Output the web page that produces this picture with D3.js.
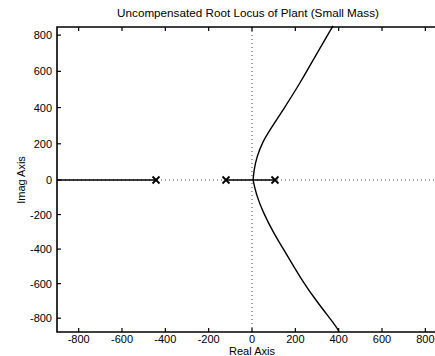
<!DOCTYPE html>
<html>
<head>
<meta charset="utf-8">
<script src="https://cdn.jsdelivr.net/npm/d3@7"></script>
<style>
  body { margin: 0; background: #fff; }
  text { font-family: "Liberation Sans", Arial, sans-serif; fill: #000; }
</style>
</head>
<body>
<div id="chart"></div>
<script>
document.addEventListener('DOMContentLoaded', function(e) {
  // Size of the picture
  var width = 435
  var height = 356

  // Open-loop poles on the real axis
  var poles = [-443, -120, 106]

  // Upper branch of the locus [real, imag]
  var upperBranch = [[5, 0], [9, 55], [22, 127], [48, 210], [90, 290], [145, 390],
                     [222, 535], [300, 701], [374, 851]]
  // Lower branch
  var lowerBranch = [[5, 0], [20, -87], [51, -186], [97, -301], [162, -435],
                     [224, -568], [300, -707], [392, -852], [402, -880]]
  // Real axis segments that are part of the locus
  var axisSegments = [[-900, -443], [-120, 106]]

  // Tick labels
  var xTicks = [-800, -600, -400, -200, 0, 200, 400, 600, 800]
  var yTicks = [-800, -600, -400, -200, 0, 200, 400, 600, 800]

  var svg = d3.select("#chart")
    .append("svg")
    .attr("width", width)
    .attr("height", height)

  // Scales (the scanned y axis is slightly stretched above zero)
  var x = d3.scaleLinear().domain([-900, 900]).range([57, 447])
  var y = d3.scaleLinear().domain([-880, 0, 845]).range([332, 180, 27])

  // Dotted axes through the origin
  svg.append("line")
    .attr("x1", x(0)).attr("x2", x(0))
    .attr("y1", y(845)).attr("y2", y(-880))
    .attr("stroke", "#444").attr("stroke-width", 1)
    .attr("stroke-dasharray", "1,3")
  svg.append("line")
    .attr("x1", x(-900)).attr("x2", x(900))
    .attr("y1", y(0)).attr("y2", y(0))
    .attr("stroke", "#444").attr("stroke-width", 1)
    .attr("stroke-dasharray", "1,3")

  // Locus on the real axis
  svg.selectAll(".seg")
    .data(axisSegments)
    .enter()
    .append("line")
    .attr("x1", function(d) { return x(d[0]) })
    .attr("x2", function(d) { return x(d[1]) })
    .attr("y1", y(0)).attr("y2", y(0))
    .attr("stroke", "#000").attr("stroke-width", 1.6)

  // Complex branches
  var line = d3.line()
    .x(function(d) { return x(d[0]) })
    .y(function(d) { return y(d[1]) })
    .curve(d3.curveBasis)

  svg.selectAll(".branch")
    .data([upperBranch, lowerBranch])
    .enter()
    .append("path")
    .attr("d", line)
    .attr("fill", "none")
    .attr("stroke", "#000")
    .attr("stroke-width", 1.4)

  // Pole markers
  var s = 3.5
  svg.selectAll(".pole")
    .data(poles)
    .enter()
    .append("path")
    .attr("d", function(d) {
      var cx = x(d), cy = y(0)
      return "M" + (cx - s) + "," + (cy - s) + "L" + (cx + s) + "," + (cy + s) +
             "M" + (cx - s) + "," + (cy + s) + "L" + (cx + s) + "," + (cy - s)
    })
    .attr("stroke", "#000")
    .attr("stroke-width", 1.8)

  // Frame: left, bottom and top edges
  var top = y(845), bottom = y(-880), left = x(-900)
  svg.append("path")
    .attr("d", "M" + width + "," + top + "L" + left + "," + top + "L" + left + "," + bottom + "L" + width + "," + bottom)
    .attr("fill", "none")
    .attr("stroke", "#000")
    .attr("stroke-width", 1.6)

  // Tick marks inside the frame
  svg.selectAll(".xt")
    .data(xTicks)
    .enter()
    .append("path")
    .attr("d", function(d) {
      return "M" + x(d) + "," + bottom + "v-4M" + x(d) + "," + top + "v4"
    })
    .attr("stroke", "#000").attr("stroke-width", 1.2)
  svg.selectAll(".yt")
    .data(yTicks)
    .enter()
    .append("path")
    .attr("d", function(d) { return "M" + left + "," + y(d) + "h4" })
    .attr("stroke", "#000").attr("stroke-width", 1.2)

  // Tick labels
  svg.selectAll(".xl")
    .data(xTicks)
    .enter()
    .append("text")
    .text(function(d) { return d })
    .attr("x", function(d) { return x(d) })
    .attr("y", 343)
    .style("text-anchor", "middle")
    .style("font-size", "11px")
  svg.selectAll(".yl")
    .data(yTicks)
    .enter()
    .append("text")
    .text(function(d) { return d })
    .attr("x", 52)
    .attr("y", function(d) { return y(d) + 4 })
    .style("text-anchor", "end")
    .style("font-size", "11px")

  // Title and axis names
  svg.append("text")
    .text("Uncompensated Root Locus of Plant (Small Mass)")
    .attr("x", 248).attr("y", 17)
    .style("text-anchor", "middle")
    .style("font-size", "11.7px")
  svg.append("text")
    .text("Real Axis")
    .attr("x", 252).attr("y", 355)
    .style("text-anchor", "middle")
    .style("font-size", "11px")
  svg.append("text")
    .text("Imag Axis")
    .attr("transform", "translate(25,180) rotate(-90)")
    .style("text-anchor", "middle")
    .style("font-size", "11px")
});
</script>
</body>
</html>
